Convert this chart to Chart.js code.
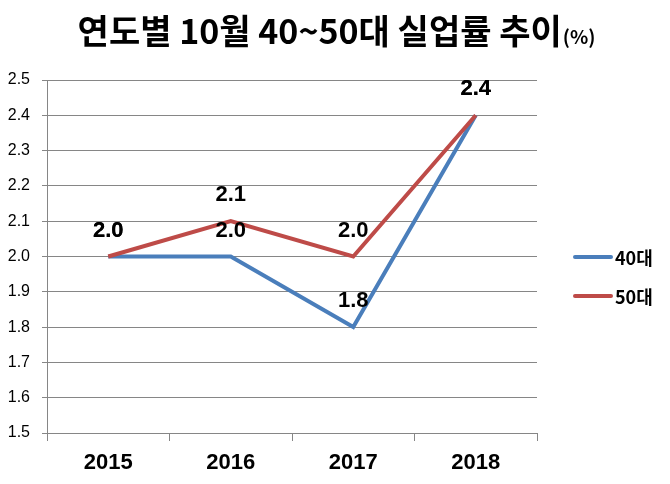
<!DOCTYPE html>
<html>
<head>
<meta charset="utf-8">
<script src="https://cdn.jsdelivr.net/npm/chart.js@4/dist/chart.umd.min.js"></script>
<style>
  html, body { margin: 0; padding: 0; background: #fff; }
  #wrap { width: 670px; height: 484px; }
</style>
</head>
<body>
<div id="wrap"><canvas id="chart" width="670" height="484"></canvas></div>
<script>
// chart values
var years = ['2015', '2016', '2017', '2018'];
var rate40 = [2.0, 2.0, 1.8, 2.4];
var rate50 = [2.0, 2.1, 2.0, 2.4];
var seriesNames = ['40대', '50대'];
var seriesColors = ['#4A7EBB', '#BE4B48'];
var titleMain = '연도별 10월 40~50대 실업률 추이';
var titleUnit = '(%)';

var KR = '"Noto Sans CJK KR", "Noto Sans", sans-serif';

// title with a small unit after it
var titlePlugin = {
  id: 'mixedTitle',
  afterDraw: function(chart) {
    var ctx = chart.ctx;
    ctx.save();
    ctx.fillStyle = '#000';
    ctx.textBaseline = 'alphabetic';
    ctx.font = 'bold 34px ' + KR;
    var w1 = ctx.measureText(titleMain).width;
    ctx.font = 'bold 19px ' + KR;
    var w2 = ctx.measureText(titleUnit).width;
    var x = 336 - (w1 + w2) / 2;
    ctx.font = 'bold 34px ' + KR;
    ctx.fillText(titleMain, x, 44);
    ctx.font = 'bold 19px ' + KR;
    ctx.fillText(titleUnit, x + w1 + 1, 44);
    ctx.restore();
  }
};

// value labels above each point
var labelPlugin = {
  id: 'valueLabels',
  afterDatasetsDraw: function(chart) {
    var ctx = chart.ctx;
    ctx.save();
    ctx.fillStyle = '#000';
    ctx.font = 'bold 22px "Liberation Sans", Arial, sans-serif';
    ctx.textAlign = 'center';
    ctx.textBaseline = 'middle';
    chart.data.datasets.forEach(function(ds, i) {
      var meta = chart.getDatasetMeta(i);
      meta.data.forEach(function(pt, j) {
        ctx.fillText(ds.data[j].toFixed(1), pt.x, pt.y - 26);
      });
    });
    ctx.restore();
  }
};

// legend on the right, line + name
var legendPlugin = {
  id: 'sideLegend',
  afterDraw: function(chart) {
    var ctx = chart.ctx;
    ctx.save();
    chart.data.datasets.forEach(function(ds, i) {
      var y = 257 + i * 39;
      ctx.strokeStyle = ds.borderColor;
      ctx.lineWidth = 4;
      ctx.lineCap = 'round';
      ctx.beginPath();
      ctx.moveTo(575, y);
      ctx.lineTo(611, y);
      ctx.stroke();
      ctx.fillStyle = '#000';
      ctx.font = 'bold 18px ' + KR;
      ctx.textBaseline = 'middle';
      ctx.fillText(ds.label, 615, y + 1);
    });
    ctx.restore();
  }
};

var ctx = document.getElementById('chart');
var myChart = new Chart(ctx, {
  type: 'line',
  data: {
    labels: years,
    datasets: [{
      label: seriesNames[0],
      data: rate40,
      borderColor: seriesColors[0],
      backgroundColor: seriesColors[0],
      borderWidth: 4,
      pointRadius: 0,
      tension: 0,
      order: 1
    }, {
      label: seriesNames[1],
      data: rate50,
      borderColor: seriesColors[1],
      backgroundColor: seriesColors[1],
      borderWidth: 4,
      pointRadius: 0,
      tension: 0,
      order: 0
    }]
  },
  options: {
    responsive: false,
    animation: false,
    layout: { padding: { top: 80, right: 133, bottom: 0, left: 0 } },
    plugins: {
      legend: { display: false },
      title: { display: false },
      tooltip: { enabled: false }
    },
    scales: {
      x: {
        offset: true,
        grid: {
          offset: true,
          drawOnChartArea: false,
          color: '#868686',
          tickLength: 8
        },
        border: { color: '#868686' },
        ticks: {
          color: '#000',
          padding: 9,
          font: { family: '"Liberation Sans", Arial, sans-serif', size: 22, weight: 'bold' }
        },
        afterFit: function(scale) { scale.height = 51; }
      },
      y: {
        min: 1.5,
        max: 2.5,
        ticks: {
          stepSize: 0.1,
          color: '#000',
          padding: 12,
          font: { family: '"Liberation Sans", Arial, sans-serif', size: 16 },
          callback: function(v) { return v.toFixed(1); }
        },
        grid: { color: '#868686', tickLength: 5 },
        border: { color: '#868686' },
        afterFit: function(scale) { scale.width = 47; }
      }
    }
  },
  plugins: [titlePlugin, labelPlugin, legendPlugin]
});
</script>
</body>
</html>
